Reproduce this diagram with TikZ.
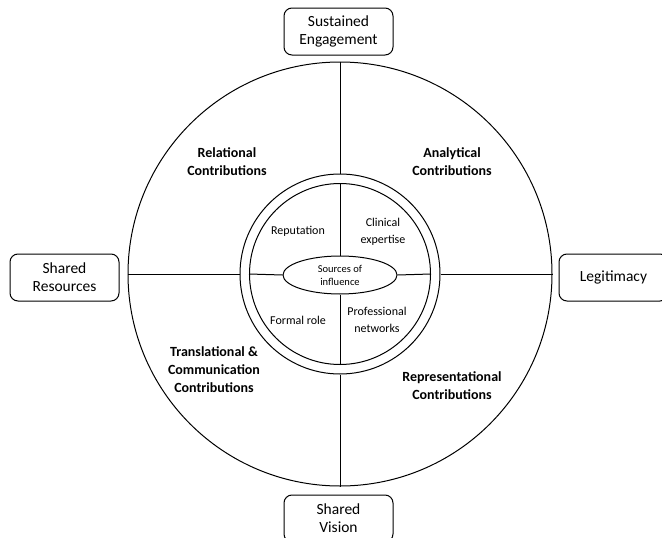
\documentclass[tikz,border=0pt]{standalone}
\usepackage{fontspec}
\setmainfont{Carlito}
\usetikzlibrary{shapes.geometric}
\begin{document}
\begin{tikzpicture}[x=1pt,y=-1pt,line width=1pt,
  ringc/.style={circle,draw,inner sep=0pt},
  outbox/.style={draw,rounded corners=8pt,minimum width=109pt,minimum height=47pt,inner sep=2pt,align=center,font=\fontsize{15.5}{18}\selectfont},
  seclabel/.style={align=center,font=\fontsize{14}{18}\selectfont\bfseries},
  inlabel/.style={align=center,font=\fontsize{12}{16.5}\selectfont}]
\useasboundingbox (0,0) rectangle (662,538);
\coordinate (O) at (340,274);
\node[ringc,minimum size=424pt] (outer) at (O) {};
\node[ringc,minimum size=200pt] (ring) at (O) {};
\node[ringc,minimum size=181pt] (inner) at (O) {};
\node[ellipse,draw,minimum width=114pt,minimum height=38pt,inner sep=0pt,align=center,font=\fontsize{10.5}{13}\selectfont] (src) at (340,275) {Sources of\\influence};
% spokes
\draw (outer.north) -- (ring.north);
\draw (outer.south) -- (ring.south);
\draw (outer.west) -- (ring.west);
\draw (outer.east) -- (ring.east);
\draw (inner.north) -- (src.north);
\draw (inner.south) -- (src.south);
\draw (inner.west) -- (src.west);
\draw (inner.east) -- (src.east);
% boxes
\node[outbox] (top) at (338.5,31.5) {Sustained\\Engagement};
\node[outbox] (left) at (64.5,277.5) {Shared\\Resources};
\node[outbox] (right) at (613.5,277.5) {Legitimacy};
\node[outbox] (bottom) at (338.5,518.5) {Shared\\Vision};
% sector labels
\node[seclabel] (rel) at (227,162) {Relational\\Contributions};
\node[seclabel] (ana) at (452,162) {Analytical\\Contributions};
\node[seclabel] (tra) at (214,370) {Translational \&\\Communication\\Contributions};
\node[seclabel] (rep) at (452,386) {Representational\\Contributions};
% inner labels
\node[inlabel] (reput) at (298,231) {Reputation};
\node[inlabel] (clin) at (383,232) {Clinical\\expertise};
\node[inlabel] (formal) at (298,320) {Formal role};
\node[inlabel] (prof) at (377,320) {Professional\\networks};
\end{tikzpicture}
\end{document}
